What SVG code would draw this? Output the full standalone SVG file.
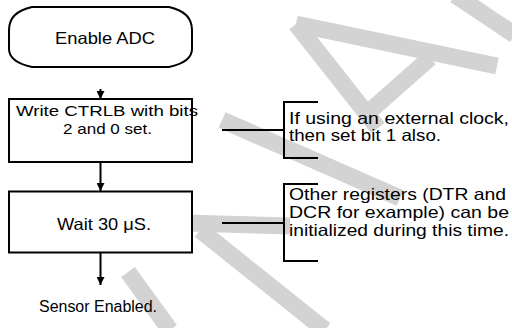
<svg xmlns="http://www.w3.org/2000/svg" width="512" height="328" viewBox="0 0 512 328">
<defs>
<style>
.wm{stroke:#d3d3d3;stroke-width:17;fill:none;stroke-linecap:butt}
.box{fill:#fff;stroke:#000;stroke-width:2}
.ln{stroke:#000;stroke-width:2;fill:none}
.t{font-family:"Liberation Sans",Arial,sans-serif;font-size:16.5px;fill:#000}
.s{font-family:"Liberation Sans",Arial,sans-serif;font-size:16px;fill:#000}
.c{font-family:"Liberation Sans",Arial,sans-serif;font-size:15px;fill:#000}
</style>
<marker id="ah" viewBox="0 0 10 10" refX="10" refY="5" markerWidth="11" markerHeight="8" markerUnits="userSpaceOnUse" orient="auto">
<path d="M0,0 L10,5 L0,10 Z" fill="#000"/>
</marker>
</defs>
<rect width="512" height="328" fill="#fff"/>
<g id="watermark">
<line class="wm" x1="296" y1="24" x2="497" y2="66"/>
<line class="wm" x1="296" y1="24" x2="378" y2="128"/>
<line class="wm" stroke-width="14" x1="362" y1="118" x2="430" y2="58"/>
<line class="wm" x1="455" y1="-5" x2="515" y2="35"/>
<line class="wm" x1="222" y1="120" x2="400" y2="198"/>
<line class="wm" stroke-width="20" x1="185" y1="223" x2="290" y2="226"/>
<line class="wm" x1="200" y1="230" x2="325" y2="330"/>
<line class="wm" x1="128" y1="272" x2="170" y2="330"/>
</g>
<g id="connectors">
<line class="ln" x1="100.5" y1="89" x2="100.5" y2="99" marker-end="url(#ah)"/>
<line class="ln" x1="100.5" y1="162" x2="100.5" y2="191" marker-end="url(#ah)"/>
<line class="ln" x1="100.5" y1="253" x2="100.5" y2="285" marker-end="url(#ah)"/>
<line class="ln" x1="222" y1="130" x2="284" y2="130"/>
<path class="ln" d="M318,102 H284 V158 H318"/>
<line class="ln" x1="222" y1="223" x2="284" y2="223"/>
<path class="ln" d="M318,184 H284 V261 H318"/>
</g>
<g id="n-enable">
<path class="box" d="M32,7 H169 Q192,12 192,30 V49 Q192,62 169,67 H32 Q9,62 9,49 V30 Q9,12 32,7 Z"/>
<text class="t" x="55" y="44" textLength="100" lengthAdjust="spacingAndGlyphs">Enable ADC</text>
</g>
<g id="n-write">
<rect class="box" x="9" y="99" width="183" height="63"/>
<text class="c" x="16" y="116" textLength="182" lengthAdjust="spacingAndGlyphs">Write CTRLB with bits</text>
<text class="c" x="63" y="133.5" textLength="89" lengthAdjust="spacingAndGlyphs">2 and 0 set.</text>
</g>
<g id="n-wait">
<rect class="box" x="9" y="191.5" width="183" height="61"/>
<text class="t" x="57" y="230" textLength="94" lengthAdjust="spacingAndGlyphs">Wait 30 μS.</text>
</g>
<g id="n-end">
<text class="s" x="39" y="312" textLength="118" lengthAdjust="spacingAndGlyphs">Sensor Enabled.</text>
</g>
<g id="note1">
<text class="t" x="289" y="124" textLength="220" lengthAdjust="spacingAndGlyphs">If using an external clock,</text>
<text class="t" x="289" y="141" textLength="152" lengthAdjust="spacingAndGlyphs">then set bit 1 also.</text>
</g>
<g id="note2">
<text class="t" x="289" y="200" textLength="217" lengthAdjust="spacingAndGlyphs">Other registers (DTR and</text>
<text class="t" x="289" y="218" textLength="220" lengthAdjust="spacingAndGlyphs">DCR for example) can be</text>
<text class="t" x="289" y="236" textLength="220" lengthAdjust="spacingAndGlyphs">initialized during this time.</text>
</g>
</svg>
